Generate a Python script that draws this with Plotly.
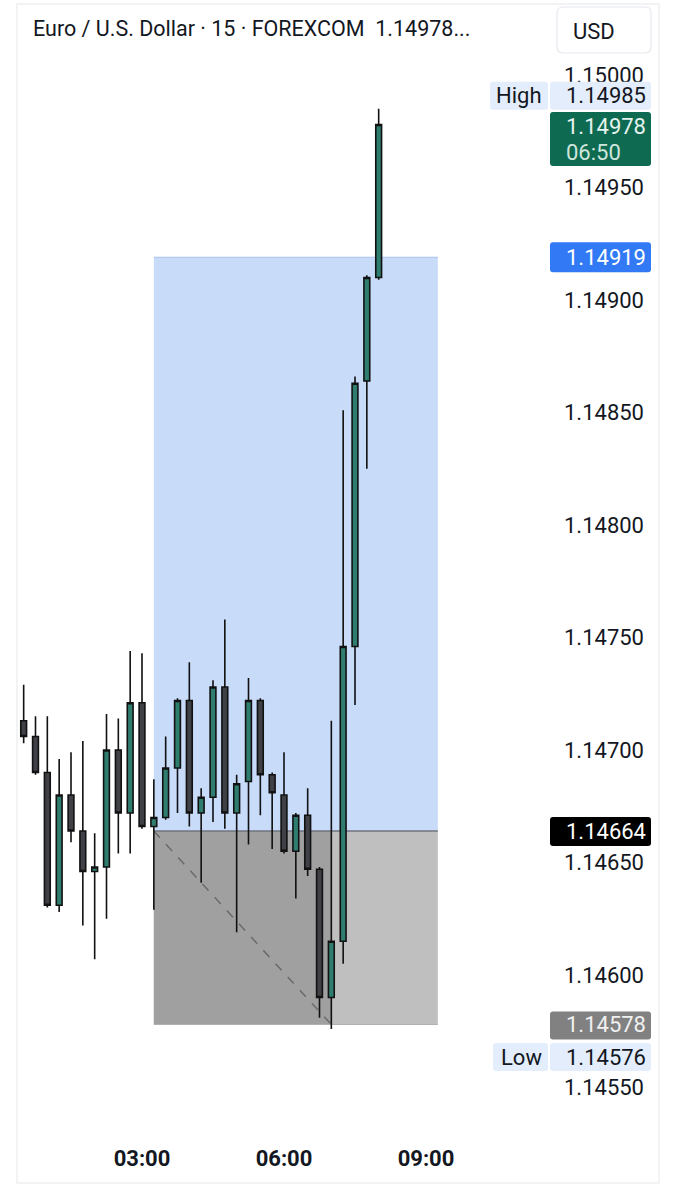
import pandas as pd
import plotly.graph_objects as go

# ---------------- data ----------------
times = ["00:30", "00:45", "01:00", "01:15", "01:30", "01:45", "02:00", "02:15",
         "02:30", "02:45", "03:00", "03:15", "03:30", "03:45", "04:00", "04:15",
         "04:30", "04:45", "05:00", "05:15", "05:30", "05:45", "06:00", "06:15",
         "06:30", "06:45", "07:00", "07:15", "07:30", "07:45", "08:00"]
opens = [1.14713, 1.14706, 1.14690, 1.14631, 1.14680, 1.14664, 1.14646, 1.14648,
         1.14700, 1.14672, 1.14721, 1.14666, 1.14670, 1.14692, 1.14722, 1.14672,
         1.14679, 1.14728, 1.14672, 1.14686, 1.14722, 1.14689, 1.14680, 1.14655,
         1.14671, 1.14647, 1.14590, 1.14615, 1.14746, 1.14864, 1.14910]
highs = [1.14729, 1.14715, 1.14715, 1.14696, 1.14699, 1.14704, 1.14663, 1.14716,
         1.14714, 1.14744, 1.14743, 1.14687, 1.14706, 1.14723, 1.14739, 1.14683,
         1.14731, 1.14758, 1.14689, 1.14732, 1.14723, 1.14690, 1.14699, 1.14672,
         1.14683, 1.14648, 1.14713, 1.14851, 1.14866, 1.14911, 1.14985]
lows = [1.14703, 1.14689, 1.14630, 1.14628, 1.14659, 1.14622, 1.14607, 1.14625,
        1.14654, 1.14654, 1.14665, 1.14629, 1.14669, 1.14672, 1.14666, 1.14641,
        1.14668, 1.14665, 1.14619, 1.14658, 1.14671, 1.14656, 1.14654, 1.14634,
        1.14644, 1.14581, 1.14576, 1.14605, 1.14720, 1.14825, 1.14909]
closes = [1.14706, 1.14690, 1.14631, 1.14680, 1.14664, 1.14646, 1.14648, 1.14700,
          1.14672, 1.14721, 1.14666, 1.14670, 1.14692, 1.14722, 1.14672, 1.14679,
          1.14728, 1.14672, 1.14685, 1.14722, 1.14689, 1.14681, 1.14655, 1.14671,
          1.14647, 1.14590, 1.14615, 1.14746, 1.14863, 1.14910, 1.14978]

x_tick_times = ["03:00", "06:00", "09:00"]

entry_price = 1.14664
target_price = 1.14919
stop_price = 1.14578
pos_start, pos_end, stop_hit = "03:15", "09:15", "07:00"

high_val = 1.14985
low_val = 1.14576
last_val = 1.14978
countdown = "06:50"

title_text = "Euro / U.S. Dollar · 15 · FOREXCOM&nbsp; 1.14978..."
currency = "USD"

DAY = "2025-07-01 "
def ts(t):
    return pd.Timestamp(DAY + t)

x = [ts(t) for t in times]

# ---------------- layout geometry ----------------
W, H = 677, 1200
L, R, T, B = 18, 548, 60, 1130
FONT = "Roboto"
FS = 22
TXT = "#131722"

GREEN = "#2f7d6f"
DARK = "#404146"

fig = go.Figure()
fig.add_trace(go.Candlestick(
    x=x, open=opens, high=highs, low=lows, close=closes,
    increasing=dict(fillcolor=GREEN, line=dict(color="#111111", width=1.6)),
    decreasing=dict(fillcolor=DARK, line=dict(color="#111111", width=1.6)),
    hoverinfo="skip", showlegend=False,
))

shapes = []
# position tool zones
shapes.append(dict(type="rect", xref="x", yref="y", x0=ts(pos_start), x1=ts(pos_end),
                   y0=entry_price, y1=target_price, fillcolor="#c8dbf9",
                   line=dict(width=0), layer="below"))
shapes.append(dict(type="rect", xref="x", yref="y", x0=ts(pos_start), x1=ts(pos_end),
                   y0=stop_price, y1=entry_price, fillcolor="#bfbfbf",
                   line=dict(width=0), layer="below"))
shapes.append(dict(type="rect", xref="x", yref="y", x0=ts(pos_start), x1=ts(stop_hit),
                   y0=stop_price, y1=entry_price, fillcolor="#a0a0a0",
                   line=dict(width=0), layer="below"))
shapes.append(dict(type="line", xref="x", yref="y", x0=ts(pos_start), x1=ts(pos_end),
                   y0=target_price, y1=target_price, line=dict(color="#a9c3ec", width=1.2),
                   layer="below"))
shapes.append(dict(type="line", xref="x", yref="y", x0=ts(pos_start), x1=ts(pos_end),
                   y0=entry_price, y1=entry_price, line=dict(color="#70737c", width=1.5),
                   layer="below"))
shapes.append(dict(type="line", xref="x", yref="y", x0=ts(pos_start), x1=ts(pos_end),
                   y0=stop_price, y1=stop_price, line=dict(color="#b0b0b0", width=1.2),
                   layer="below"))
shapes.append(dict(type="line", xref="x", yref="y", x0=ts(pos_start), x1=ts(stop_hit),
                   y0=entry_price, y1=stop_price, line=dict(color="#6a6a6a", width=1.5, dash="dash"),
                   layer="below"))


def rr_path(x0, x1, y0, y1, r):
    return (f"M {x0+r},{y0} L {x1-r},{y0} Q {x1},{y0} {x1},{y0+r} "
            f"L {x1},{y1-r} Q {x1},{y1} {x1-r},{y1} L {x0+r},{y1} "
            f"Q {x0},{y1} {x0},{y1-r} L {x0},{y0+r} Q {x0},{y0} {x0+r},{y0} Z")


def price_box(price, px0, px1, dy0, dy1, color, r=3):
    # px offsets relative to plot right edge; dy offsets in pixels (up positive) from price
    shapes.append(dict(type="path", xref="paper", yref="y", xsizemode="pixel", ysizemode="pixel",
                       xanchor=1, yanchor=price, path=rr_path(px0, px1, dy0, dy1, r),
                       fillcolor=color, line=dict(width=0), layer="above"))


annotations = []


def label(text, price, xshift, yshift, color, size=FS, anchor="left"):
    annotations.append(dict(text=text, xref="paper", yref="y", x=1, y=price,
                            xanchor=anchor, yanchor="middle", xshift=xshift, yshift=yshift,
                            showarrow=False, font=dict(family=FONT, size=size, color=color)))


# High label
price_box(high_val, -58, 0, -1, 27, "#e3edfb")
price_box(high_val, 2, 103, -1, 27, "#e3edfb")
label("High", high_val, -29, 13, TXT, anchor="center")
label(f"{high_val:.5f}", high_val, 16, 13, TXT)
# Last price with countdown
price_box(last_val, 2, 103, -41.5, 12.5, "#0e6a51")
label(f"{last_val:.5f}", last_val, 16, -1.5, "#e6f3ee")
label(countdown, last_val, 16, -27.5, "#cfe6dd")
# Target
price_box(target_price, 2, 103, -15, 15, "#3179f5")
label(f"{target_price:.5f}", target_price, 16, 0, "#ffffff")
# Entry
price_box(entry_price, 2, 103, -15, 14, "#000000")
label(f"{entry_price:.5f}", entry_price, 16, 0, "#ffffff")
# Stop
price_box(stop_price, 2, 103, -15, 13, "#818181")
label(f"{stop_price:.5f}", stop_price, 16, 0, "#f0f0f0")
# Low label
price_box(low_val, -55, 0, -42, -14, "#e3edfb")
price_box(low_val, 2, 103, -42, -14, "#e3edfb")
label("Low", low_val, -27, -28, TXT, anchor="center")
label(f"{low_val:.5f}", low_val, 16, -28, TXT)

# outer frame
shapes.append(dict(type="rect", xref="paper", yref="paper", xsizemode="pixel", ysizemode="pixel",
                   xanchor=0, yanchor=0, x0=-1, x1=659 - L, y0=B - 1183, y1=B - 4,
                   line=dict(color="#eeeff2", width=1.5), fillcolor="rgba(0,0,0,0)", layer="below"))
# currency button
shapes.append(dict(type="path", xref="paper", yref="paper", xsizemode="pixel", ysizemode="pixel",
                   xanchor=1, yanchor=1, path=rr_path(9, 103, T - 53, T - 7, 6),
                   fillcolor="#ffffff", line=dict(color="#e6e8ee", width=1.2), layer="above"))
annotations.append(dict(text=currency, xref="paper", yref="paper", x=1, y=1, xanchor="left",
                        yanchor="middle", xshift=23, yshift=T - 31, showarrow=False,
                        font=dict(family=FONT, size=FS, color=TXT)))
# title
annotations.append(dict(text=title_text, xref="paper", yref="paper", x=0, y=1, xanchor="left",
                        yanchor="middle", xshift=31 - L, yshift=T - 28, showarrow=False,
                        font=dict(family=FONT, size=21.5, color=TXT)))

# axis ranges chosen so that 1.15 sits at y=75 and 1 pip = 2.25 px
Y0PX = 75
y_top = 1.15 + (Y0PX - T) / 225000
y_bot = 1.15 - (B - Y0PX) / 225000

fig.update_layout(
    width=W, height=H,
    margin=dict(l=L, r=W - R, t=T, b=H - B),
    paper_bgcolor="white", plot_bgcolor="white",
    shapes=shapes, annotations=annotations,
    hovermode=False, showlegend=False,
    font=dict(family=FONT, size=FS, color=TXT),
    xaxis=dict(range=[pd.Timestamp(DAY + "00:22:49"), pd.Timestamp(DAY + "11:34:39")],
               rangeslider=dict(visible=False), showgrid=False, zeroline=False,
               showline=False, ticks="",
               tickvals=[ts(t) for t in x_tick_times],
               ticktext=[f"<b>{t}</b>" for t in x_tick_times],
               tickfont=dict(family=FONT, size=FS, color=TXT),
               ticklabelstandoff=13),
    yaxis=dict(range=[y_bot, y_top], side="right", showgrid=False, zeroline=False,
               showline=False, ticks="", tick0=1.15, dtick=0.0005, tickformat=".5f",
               tickfont=dict(family=FONT, size=FS, color=TXT), ticklabelstandoff=15),
)

fig.write_html("out.html")
